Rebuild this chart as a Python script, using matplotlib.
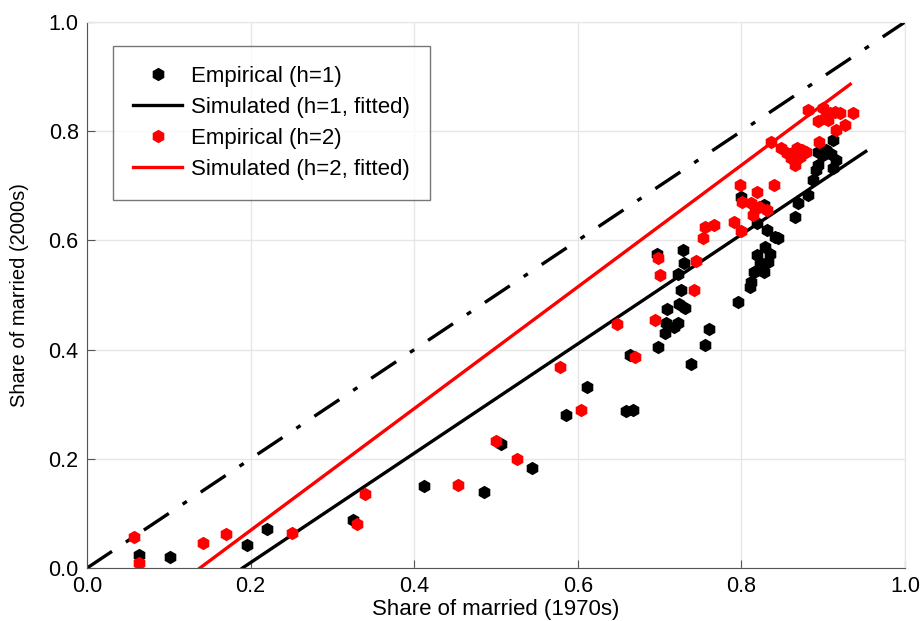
import numpy as np
import matplotlib.pyplot as plt

plt.rcParams['font.family'] = ['Liberation Sans', 'DejaVu Sans']

# empirical, h=1
emp1_x = [0.063, 0.101, 0.196, 0.220, 0.325, 0.412, 0.485, 0.506, 0.544, 0.586,
          0.611, 0.659, 0.667, 0.664, 0.698, 0.697, 0.728, 0.730, 0.722, 0.726,
          0.709, 0.724, 0.731, 0.708, 0.707, 0.717, 0.723, 0.760, 0.756, 0.738,
          0.796, 0.819, 0.829, 0.835, 0.823, 0.833, 0.815, 0.827, 0.812, 0.811,
          0.831, 0.841, 0.799, 0.827, 0.819, 0.845, 0.866, 0.869, 0.881, 0.887,
          0.891, 0.893, 0.912, 0.916, 0.900, 0.909, 0.903, 0.893, 0.912]
emp1_y = [0.024, 0.021, 0.043, 0.071, 0.088, 0.150, 0.139, 0.227, 0.184, 0.280,
          0.331, 0.287, 0.289, 0.390, 0.405, 0.576, 0.582, 0.558, 0.538, 0.510,
          0.474, 0.484, 0.476, 0.448, 0.431, 0.442, 0.449, 0.437, 0.408, 0.374,
          0.488, 0.573, 0.588, 0.576, 0.558, 0.561, 0.543, 0.543, 0.524, 0.515,
          0.619, 0.607, 0.680, 0.665, 0.631, 0.604, 0.643, 0.668, 0.683, 0.711,
          0.729, 0.738, 0.732, 0.747, 0.756, 0.759, 0.766, 0.762, 0.783]

# empirical, h=2
emp2_x = [0.057, 0.064, 0.142, 0.170, 0.251, 0.330, 0.340, 0.454, 0.500, 0.526,
          0.578, 0.604, 0.648, 0.670, 0.694, 0.698, 0.701, 0.742, 0.745, 0.753,
          0.756, 0.767, 0.791, 0.800, 0.798, 0.840, 0.819, 0.801, 0.812, 0.816,
          0.814, 0.831, 0.822, 0.836, 0.848, 0.856, 0.862, 0.868, 0.874, 0.879,
          0.860, 0.866, 0.872, 0.866, 0.881, 0.895, 0.900, 0.908, 0.914, 0.920,
          0.902, 0.893, 0.906, 0.936, 0.926, 0.915]
emp2_y = [0.056, 0.009, 0.046, 0.062, 0.064, 0.081, 0.136, 0.152, 0.232, 0.200,
          0.368, 0.289, 0.446, 0.386, 0.455, 0.567, 0.537, 0.509, 0.563, 0.604,
          0.625, 0.628, 0.634, 0.617, 0.701, 0.701, 0.689, 0.671, 0.668, 0.659,
          0.647, 0.656, 0.662, 0.781, 0.769, 0.760, 0.760, 0.769, 0.766, 0.762,
          0.750, 0.747, 0.753, 0.738, 0.839, 0.781, 0.842, 0.833, 0.836, 0.833,
          0.824, 0.818, 0.821, 0.833, 0.811, 0.802]

# simulated fitted lines
sim1_x = [0.190, 0.952]
sim1_y = [0.000, 0.763]
sim2_x = [0.138, 0.933]
sim2_y = [0.000, 0.886]

diag = [0.0, 1.0]

fig = plt.figure(figsize=(9.22, 6.21), dpi=100)
ax = fig.add_axes([0.0944, 0.0853, 0.8872, 0.8793])

ax.plot(diag, diag, color='black', linestyle='-.', linewidth=2.4, dashes=(9, 5, 1.5, 5))
p1, = ax.plot(emp1_x, emp1_y, 'h', color='black', markersize=8.5, label='Empirical (h=1)')
l1, = ax.plot(sim1_x, sim1_y, color='black', linewidth=2.4, label='Simulated (h=1, fitted)')
p2, = ax.plot(emp2_x, emp2_y, 'h', color='red', markersize=8.5, label='Empirical (h=2)')
l2, = ax.plot(sim2_x, sim2_y, color='red', linewidth=2.4, label='Simulated (h=2, fitted)')

ax.set_xlim(0, 1)
ax.set_ylim(0, 1)
ax.set_xticks(np.arange(0, 1.01, 0.2))
ax.set_yticks(np.arange(0, 1.01, 0.2))
ax.xaxis.set_major_formatter(plt.FormatStrFormatter('%.1f'))
ax.yaxis.set_major_formatter(plt.FormatStrFormatter('%.1f'))
ax.grid(True, color='#e6e6e6', linewidth=1)
ax.set_axisbelow(True)
ax.tick_params(direction='in', length=6, labelsize=15.5, color='#555555', pad=6)
for side in ['top', 'right']:
    ax.spines[side].set_color('#e6e6e6')
for side in ['left', 'bottom']:
    ax.spines[side].set_color('#555555')

ax.set_xlabel('Share of married (1970s)', fontsize=16, labelpad=1)
ax.set_ylabel('Share of married (2000s)', fontsize=14.5, labelpad=14)

leg = ax.legend(handles=[p1, l1, p2, l2], loc='upper left', bbox_to_anchor=(0.032, 0.956),
                borderaxespad=0, fontsize=16, frameon=True, fancybox=False,
                edgecolor='#555555', handlelength=2.2, handletextpad=0.4,
                borderpad=0.9, labelspacing=0.45)
leg.get_frame().set_linewidth(1)

fig.savefig('out.png', dpi=100)
